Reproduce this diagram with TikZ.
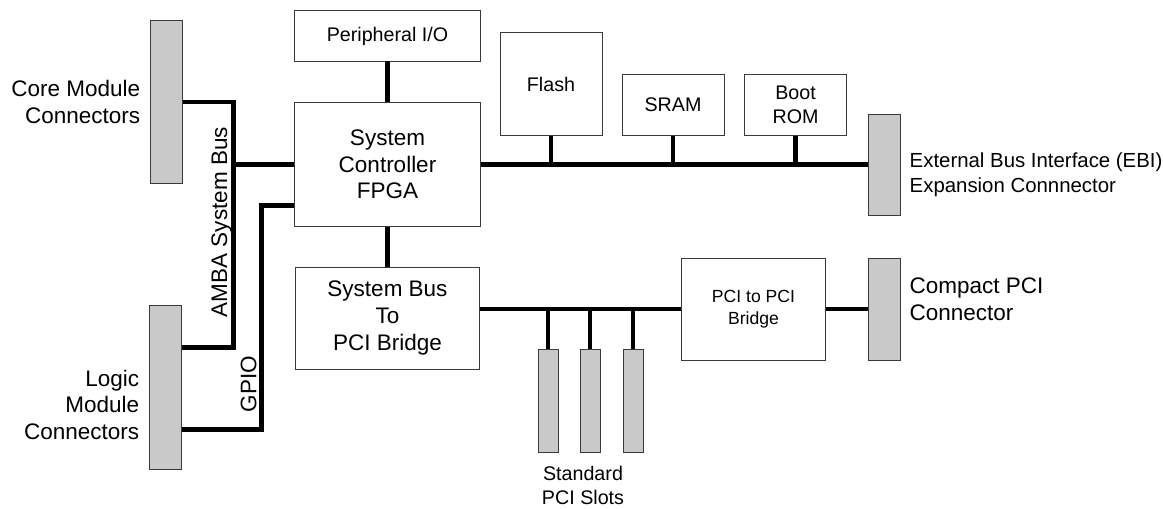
\documentclass[tikz,border=0pt]{standalone}
\usepackage{fontspec}
\setmainfont{Liberation Sans}
\usepackage{tikz}
\usetikzlibrary{positioning}
\usepackage{xcolor}
\definecolor{connfill}{HTML}{C9C9C9}
\definecolor{boxline}{HTML}{3A3A3A}

\begin{document}
\begin{tikzpicture}[
    x=0.025cm, y=-0.025cm,
    blk/.style={draw=boxline, line width=0.7pt, align=center, inner sep=2pt, font=\fontsize{16}{19}\selectfont},
    conn/.style={draw=boxline, line width=0.7pt, fill=connfill, minimum width=0.8cm, inner sep=0pt},
    lbl/.style={inner sep=2pt, font=\fontsize{16}{19}\selectfont},
    midfont/.style={font=\fontsize{14}{17.5}\selectfont},
    bus/.style={line width=2.9pt}
]
\useasboundingbox (0,0) rectangle (1163,508);

% System controller
\node[blk, minimum width=4.625cm, minimum height=3.075cm] (fpga) at (387.5,164.5) {System\\Controller\\FPGA};
\node[blk, midfont, minimum width=4.625cm, minimum height=1.25cm, above=1.025cm of fpga] (periph) {Peripheral I/O};
\node[blk, minimum width=4.6cm, minimum height=2.55cm, below=1cm of fpga] (sysbr) {System Bus\\To\\PCI Bridge};

% Memories
\node[blk, midfont, minimum width=2.55cm, minimum height=2.575cm, anchor=south] (flash) at (551,136) {Flash};
\node[blk, midfont, minimum width=2.55cm, minimum height=1.525cm, anchor=south] (sram) at (673,136) {SRAM};
\node[blk, midfont, minimum width=2.55cm, minimum height=1.525cm, anchor=south] (bootrom) at (795.5,136) {Boot\\ROM};

% Connectors
\node[conn, minimum height=4.05cm] (coreconn) at (166.5,102) {};
\node[conn, minimum height=4.075cm] (logicconn) at (165.5,387.5) {};
\node[conn, minimum height=2.525cm, right=9.675cm of fpga] (ebiconn) {};
\node[blk, font=\fontsize{12.5}{15.5}\selectfont, minimum width=3.575cm, minimum height=2.55cm] (pcibr) at (753.5,309) {PCI to PCI\\Bridge};
\node[conn, minimum height=2.55cm, right=1.05cm of pcibr] (cpciconn) {};

% PCI slots
\node[conn, minimum width=0.5cm, minimum height=2.575cm, anchor=north] (slota) at (548,349) {};
\node[conn, minimum width=0.5cm, minimum height=2.575cm, right=0.525cm of slota] (slotb) {};
\node[conn, minimum width=0.5cm, minimum height=2.575cm, right=0.55cm of slotb] (slotc) {};

% Labels
\node[lbl, align=right, left=0.17cm of coreconn] (corelbl) {Core Module\\Connectors};
\node[lbl, align=right, anchor=east] (logiclbl) at ([xshift=-0.17cm, yshift=-0.43cm]logicconn.west) {Logic\\Module\\Connectors};
\node[lbl, font=\fontsize{14.5}{18}\selectfont, align=left, anchor=west] (ebilbl) at ([xshift=0.15cm, yshift=-0.25cm]ebiconn.east) {External Bus Interface (EBI)\\Expansion Connnector};
\node[lbl, align=left, anchor=west] (cpcilbl) at ([xshift=0.15cm, yshift=0.25cm]cpciconn.east) {Compact PCI\\Connector};
\node[lbl, font=\fontsize{14}{17}\selectfont, align=center, inner sep=1pt] (slotlbl) at (583,485) {Standard\\PCI Slots};

% AMBA and GPIO wiring
\coordinate[left=1.525cm of fpga.west] (amba);
\coordinate (ambalow) at ([yshift=1cm]logicconn.east);
\coordinate (gpiolow) at ([yshift=-1.05cm]logicconn.east);
\coordinate (gpiotop) at ([yshift=-1.025cm]fpga.west);
\coordinate[left=0.825cm of gpiotop] (gpio);

\draw[bus] (coreconn.east) -| (amba |- ambalow) -- (ambalow);
\draw[bus] (amba) -- (fpga.west);
\draw[bus] (gpiotop) -- (gpio) |- (gpiolow);
\node[lbl, rotate=90, anchor=south, inner sep=1pt] (ambalbl) at ([yshift=-1.44cm]amba) {AMBA System Bus};
\node[lbl, rotate=90, anchor=south, inner sep=1pt] (gpiolbl) at ([xshift=-0.08cm, yshift=-4.46cm]gpio) {GPIO};

% External bus
\draw[bus] (periph) -- (fpga);
\draw[bus] (fpga) -- (sysbr);
\draw[bus] (fpga.east) -- (ebiconn.west);
\draw[bus] (flash.south) -- (flash.south |- fpga.east);
\draw[bus] (sram.south) -- (sram.south |- fpga.east);
\draw[bus] (bootrom.south) -- (bootrom.south |- fpga.east);

% PCI bus
\draw[bus] (sysbr.east |- pcibr.west) -- (pcibr.west);
\draw[bus] (pcibr.east) -- (cpciconn.west);
\draw[bus] (slota.north) -- (slota.north |- pcibr.west);
\draw[bus] (slotb.north) -- (slotb.north |- pcibr.west);
\draw[bus] (slotc.north) -- (slotc.north |- pcibr.west);

\end{tikzpicture}
\end{document}
